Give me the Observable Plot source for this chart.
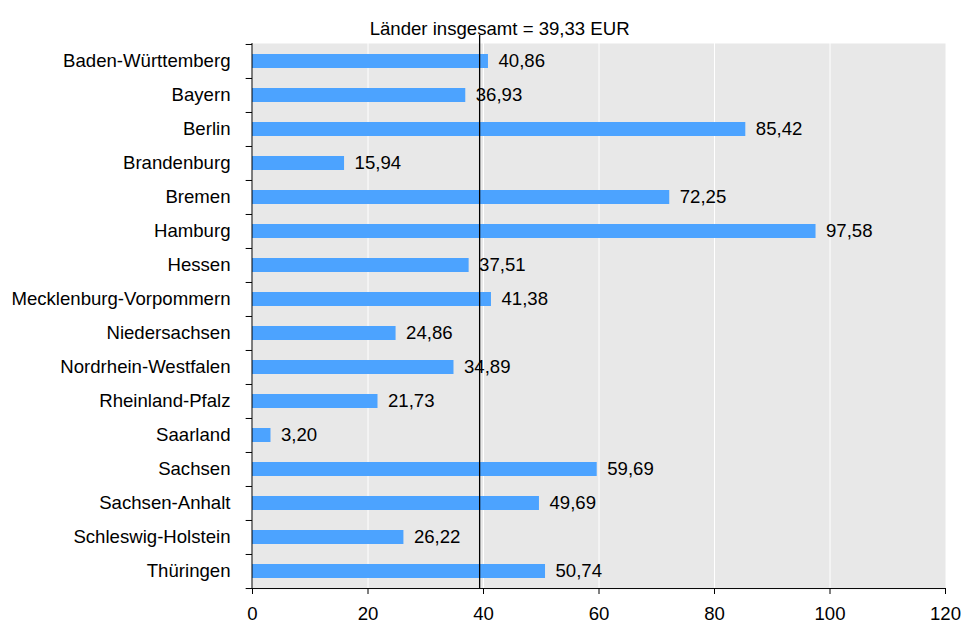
<!DOCTYPE html>
<html>
<head>
<meta charset="utf-8">
<script src="https://cdn.jsdelivr.net/npm/d3@7"></script>
<script src="https://cdn.jsdelivr.net/npm/@observablehq/plot@0.6"></script>
<style>
  html, body { margin: 0; padding: 0; background: #ffffff; }
  svg { display: block; font-family: "Liberation Sans", Arial, sans-serif; }
</style>
</head>
<body>
<div id="chart"></div>
<script>
const states = [
  "Baden-Württemberg", "Bayern", "Berlin", "Brandenburg", "Bremen", "Hamburg",
  "Hessen", "Mecklenburg-Vorpommern", "Niedersachsen", "Nordrhein-Westfalen",
  "Rheinland-Pfalz", "Saarland", "Sachsen", "Sachsen-Anhalt",
  "Schleswig-Holstein", "Thüringen"
];
const values = [40.86, 36.93, 85.42, 15.94, 72.25, 97.58, 37.51, 41.38, 24.86,
  34.89, 21.73, 3.20, 59.69, 49.69, 26.22, 50.74];
const total = 39.33;
const totalLabel = "Länder insgesamt";
const unit = "EUR";
const xTicks = [0, 20, 40, 60, 80, 100, 120];
const gridTicks = [20, 40, 60, 80, 100];

const data = states.map((s, i) => ({state: s, value: values[i]}));
const fmt = v => v.toFixed(2).replace(".", ",");

const W = 965, H = 623;
const mTop = 43, mBottom = 35, mLeft = 252, mRight = 20;
const step = (H - mTop - mBottom) / states.length;
const FS = 18.6;

const plot = Plot.plot({
  width: W,
  height: H,
  marginTop: mTop,
  marginBottom: mBottom,
  marginLeft: mLeft,
  marginRight: mRight,
  style: {fontFamily: '"Liberation Sans", Arial, sans-serif', fontSize: FS + "px", color: "#000", background: "#fff"},
  x: {domain: [0, 120], label: null},
  y: {domain: states, paddingInner: 0.59, paddingOuter: 0.295, label: null},
  marks: [
    Plot.frame({fill: "#e8e8e8", stroke: null}),
    Plot.gridX(gridTicks, {stroke: "#ffffff", strokeOpacity: 1, strokeWidth: 1}),
    Plot.barX(data, {x: "value", y: "state", fill: "#4ca3ff"}),
    Plot.text(data, {x: "value", y: "state", text: d => fmt(d.value), textAnchor: "start", dx: 10, fontSize: FS, fill: "#000"}),
    // left axis line
    Plot.ruleX([0], {stroke: "#000", strokeWidth: 1, dx: -0.5}),
    // category boundary ticks
    Plot.ruleY(states, {y: d => d, x1: -1.1, x2: 0, dy: -step / 2, stroke: "#000", clip: false}),
    // bottom axis line (with last boundary tick)
    Plot.ruleY(states.slice(-1), {y: d => d, x1: -1.1, x2: 120, dy: step / 2, stroke: "#000", clip: false}),
    // reference line
    Plot.ruleX([total], {x: d => d, stroke: "#000", strokeWidth: 1.3, insetTop: -8}),
    Plot.text([total], {x: d => d, frameAnchor: "top", dy: -22, dx: 20, text: d => `${totalLabel} = ${fmt(d)} ${unit}`, fontSize: FS, fill: "#000"}),
    Plot.axisY({tickSize: 0, tickPadding: 22, fontSize: FS, label: null}),
    Plot.axisX({ticks: xTicks, tickSize: 6, tickPadding: 12, fontSize: FS, label: null, tickFormat: d => String(d)})
  ]
});
document.getElementById("chart").appendChild(plot);
</script>
</body>
</html>
